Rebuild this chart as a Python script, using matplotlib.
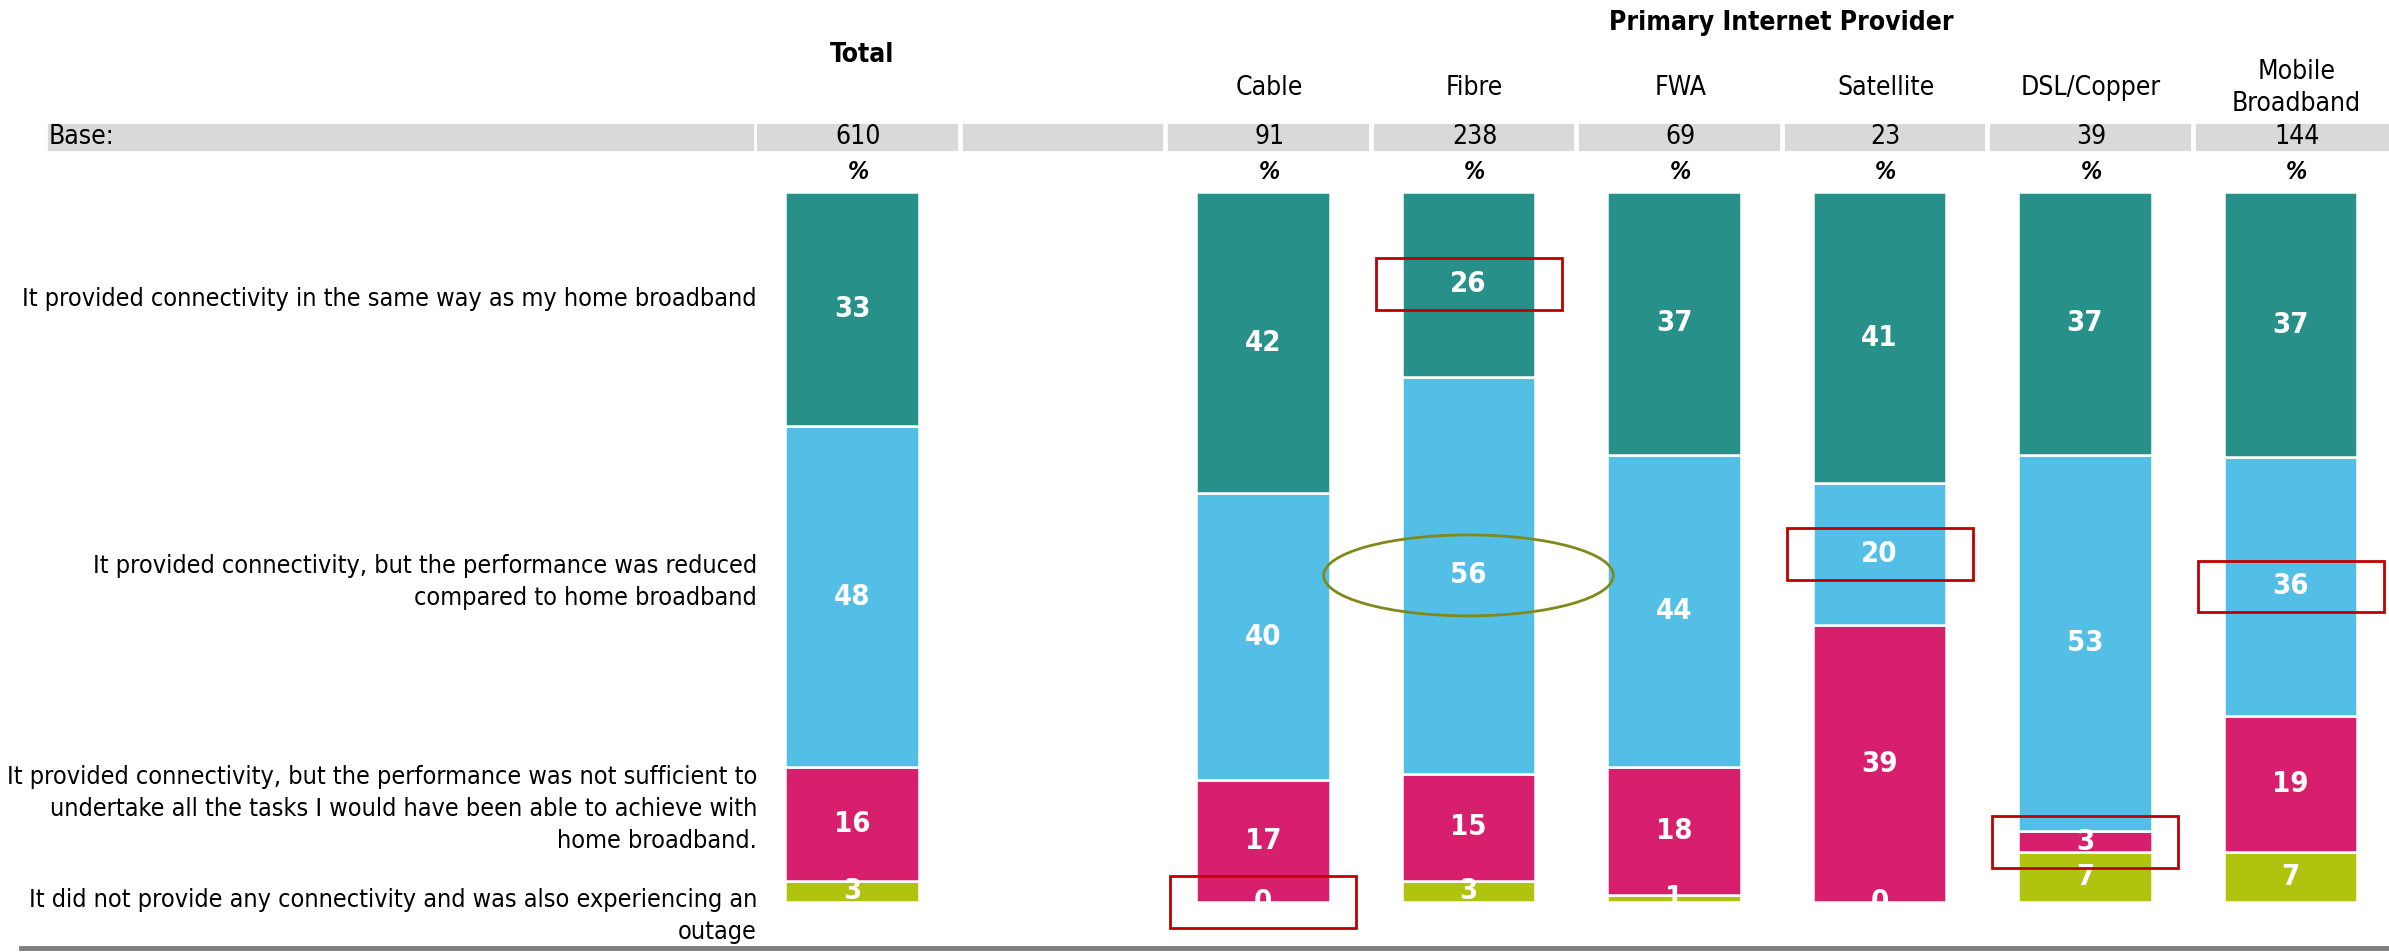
import matplotlib
matplotlib.use("Agg")
import matplotlib.pyplot as plt
from matplotlib.patches import Rectangle, Ellipse
from matplotlib.transforms import blended_transform_factory
from matplotlib.lines import Line2D

plt.rcParams['font.family'] = ['DejaVu Sans']
plt.rcParams['font.stretch'] = 'condensed'

# data
columns = ['Total', 'Cable', 'Fibre', 'FWA', 'Satellite', 'DSL/Copper', 'Mobile\nBroadband']
col_pos = [0, 2, 3, 4, 5, 6, 7]
bases = [610, 91, 238, 69, 23, 39, 144]

same_way = [33, 42, 26, 37, 41, 37, 37]
reduced = [48, 40, 56, 44, 20, 53, 36]
not_sufficient = [16, 17, 15, 18, 39, 3, 19]
no_connectivity = [3, 0, 3, 1, 0, 7, 7]

row_labels = [
    "It provided connectivity in the same way as my home broadband",
    "It provided connectivity, but the performance was reduced\ncompared to home broadband",
    "It provided connectivity, but the performance was not sufficient to\n"
    "undertake all the tasks I would have been able to achieve with\nhome broadband.",
    "It did not provide any connectivity and was also experiencing an\noutage",
]
row_label_y = [299, 582, 809, 916]  # pixel rows

colors = ['#AFC30F', '#D81F6D', '#54BFE6', '#279089']
series = [no_connectivity, not_sufficient, reduced, same_way]

# highlighted labels: (column index, series index)
boxes = [(2, 3), (4, 2), (6, 2), (5, 1), (1, 0)]
circle = (2, 2)

W, H = 2389, 952
fig = plt.figure(figsize=(W / 100, H / 100), dpi=100)
step = 205.5
x0 = 852
ax = fig.add_axes([0, (H - 902) / H, 1, 710 / H])
ax.set_xlim(-x0 / step, (W - x0) / step)
ax.set_ylim(0, 100)
ax.axis('off')

def fy(px):
    return 1 - px / H

tr = blended_transform_factory(ax.transData, fig.transFigure)

# stacked bars
centers = {}
bottoms = [0.0] * len(columns)
for s, vals in enumerate(series):
    for i, x in enumerate(col_pos):
        tot = same_way[i] + reduced[i] + not_sufficient[i] + no_connectivity[i]
        h = vals[i] / tot * 100
        ax.bar(x, h, bottom=bottoms[i], width=0.652, color=colors[s],
               edgecolor='white', linewidth=1.8)
        cy = bottoms[i] + h / 2
        centers[(i, s)] = (x, cy)
        ax.text(x, cy, str(vals[i]), ha='center', va='center', color='white',
                fontsize=21, fontweight='bold', clip_on=True)
        bottoms[i] += h

# highlight annotations
for (i, s) in boxes:
    x, cy = centers[(i, s)]
    ax.add_patch(Rectangle((x - 0.452, cy - 3.65), 0.905, 7.3, fill=False,
                           edgecolor='#C00000', linewidth=2, clip_on=False, zorder=5))
x, cy = centers[circle]
ax.add_patch(Ellipse((x, cy), 1.41, 11.4, fill=False, edgecolor='#7F8A1A',
                     linewidth=2, clip_on=False, zorder=5))

# row labels
row_texts = []
for lab, py in zip(row_labels, row_label_y):
    t = fig.text(757 / W, fy(py), lab, ha='right', va='center', fontsize=19,
                 linespacing=1.42)
    row_texts.append(t)

# headers
ax.text(0.05, fy(55), 'Total', transform=tr, ha='center', va='center',
        fontsize=19, fontweight='bold')
ax.text(4.52, fy(23), 'Primary Internet Provider', transform=tr, ha='center',
        va='center', fontsize=19, fontweight='bold')
for i, x in enumerate(col_pos):
    if i == 0:
        continue
    ax.text(x + 0.03, fy(88), columns[i], transform=tr, ha='center', va='center',
            fontsize=19, linespacing=1.3)

# base row
ax.add_patch(Rectangle((46 / step - x0 / step, fy(152)), (757 - 46) / step, 30 / H,
                       transform=tr, facecolor='#D9D9D9', edgecolor='white',
                       linewidth=2, clip_on=False))
fig.text(49 / W, fy(137), 'Base:', ha='left', va='center', fontsize=19)
for c in range(8):
    ax.add_patch(Rectangle((c - 0.47, fy(152)), 0.99, 30 / H, transform=tr,
                           facecolor='#D9D9D9', edgecolor='white', linewidth=2,
                           clip_on=False))
for i, x in enumerate(col_pos):
    ax.text(x + 0.03, fy(137), str(bases[i]), transform=tr, ha='center',
            va='center', fontsize=19)
    ax.text(x + 0.03, fy(172), '%', transform=tr, ha='center', va='center',
            fontsize=17, fontweight='bold', fontstyle='italic')

fig.add_artist(Line2D([21 / W, 1], [fy(948), fy(948)], color='#7F7F7F',
                      linewidth=3.5, transform=fig.transFigure))

# shrink the row labels so the first one spans about 736 px, as in the source
fig.canvas.draw()
r = fig.canvas.get_renderer()
w = row_texts[0].get_window_extent(r).width
if w > 736:
    for t in row_texts:
        t.set_fontsize(19 * 736 / w)

fig.savefig('out.png', dpi=100)
